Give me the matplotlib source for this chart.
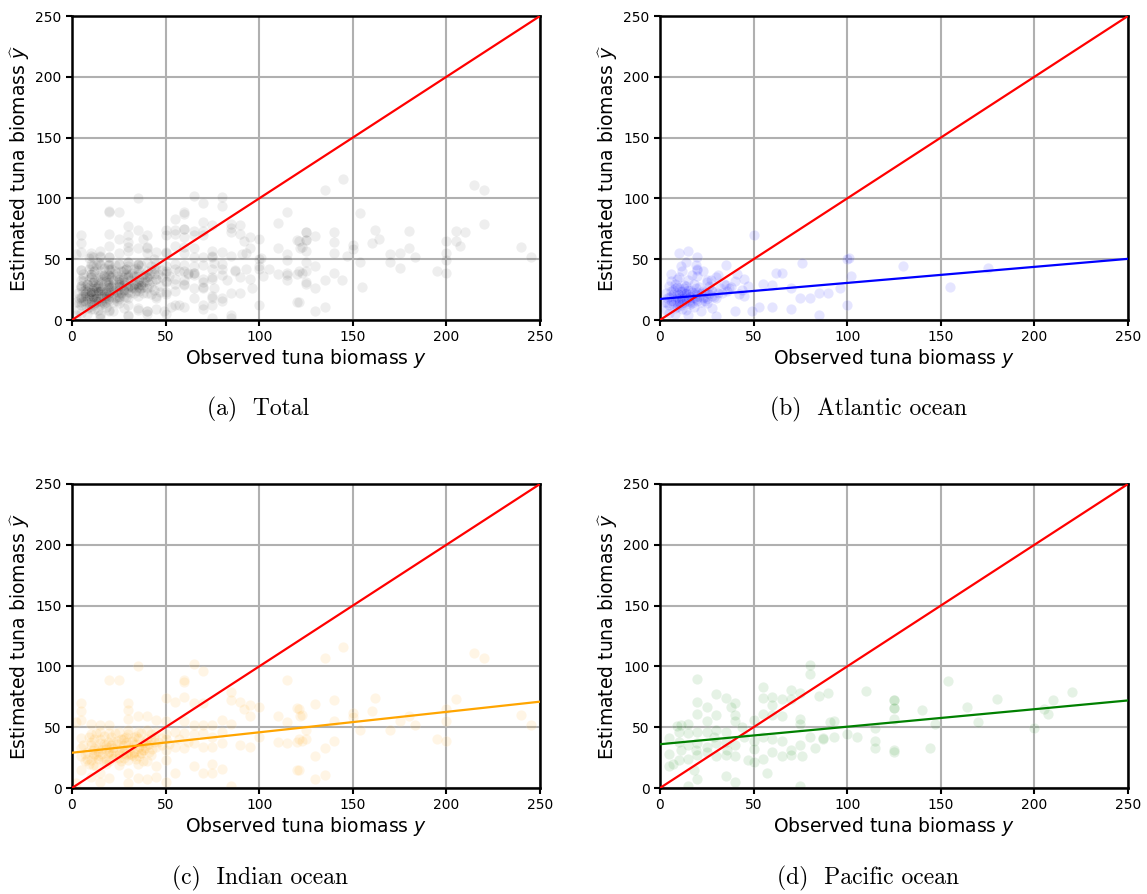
import numpy as np
import matplotlib.pyplot as plt

# (observed, estimated) tuna biomass, per ocean
atl_points = [
    (50, 70), (10, 55), (15, 57), (20, 52), (14, 48), (20, 41), (20, 36), (25, 33), (35, 45),
    (41, 38), (45, 34), (62, 39), (65, 39), (76, 47), (100, 50), (102, 36), (55, 30), (60, 29),
    (70, 26), (75, 18), (80, 18), (85, 22), (90, 22), (96, 26), (40, 7), (49, 7), (53, 11),
    (60, 11), (70, 9), (85, 4), (130, 44), (155, 27), (175, 43), (101, 51), (100, 12),
    (2, 15), (3, 22), (4, 18), (5, 12), (5, 28), (6, 20), (6, 32), (7, 16), (7, 25), (8, 10),
    (8, 19), (8, 30), (9, 14), (9, 22), (10, 17), (10, 26), (10, 35), (11, 12), (11, 20),
    (12, 18), (12, 24), (12, 40), (13, 15), (13, 22), (14, 19), (14, 28), (15, 16), (15, 21),
    (15, 33), (16, 13), (16, 25), (17, 18), (18, 22), (18, 30), (19, 17), (20, 20), (20, 42),
    (21, 27), (22, 15), (23, 24), (24, 19), (25, 31), (25, 22), (26, 28), (27, 25), (28, 20),
    (30, 35), (30, 18), (32, 26), (33, 22), (35, 29), (36, 24), (38, 27), (40, 32), (42, 21),
    (44, 25), (45, 20), (47, 28), (3, 8), (5, 6), (8, 5), (12, 9), (15, 4), (18, 11), (22, 7),
    (25, 14), (28, 10), (30, 3), (6, 38), (9, 34), (11, 44), (13, 29), (17, 37), (19, 45),
    (23, 40), (27, 33), (31, 37), (34, 30), (37, 26), (20, 23), (24, 16), (10, 13), (14, 8),
    (4, 14), (5, 19), (6, 24), (7, 13), (7, 21), (8, 17), (8, 26), (9, 11), (9, 18), (10, 21),
    (10, 15), (11, 24), (11, 17), (12, 14), (12, 21), (13, 19), (13, 26), (14, 16), (14, 22),
    (15, 18), (15, 25), (16, 20), (16, 15), (17, 23), (17, 14), (18, 18), (19, 21), (19, 26),
    (20, 16), (21, 19), (22, 22), (23, 18), (24, 23), (25, 17), (26, 21), (28, 24), (29, 19),
    (31, 22), (6, 16), (9, 27),
]

ind_points = [
    (145, 116), (135, 107), (215, 111), (220, 107), (130, 69), (140, 72), (122, 59), (121, 65),
    (150, 62), (150, 58), (162, 74), (160, 63), (154, 48), (140, 55), (125, 48), (125, 40),
    (121, 40), (140, 39), (135, 33), (130, 26), (121, 15), (130, 7), (135, 11), (170, 48),
    (175, 55), (180, 59), (183, 52), (195, 40), (200, 39), (200, 55), (200, 65), (205, 73),
    (240, 60), (245, 52),
    (35, 100), (20, 89), (25, 89), (65, 102), (70, 96), (60, 89), (60, 87), (115, 89),
    (5, 70), (5, 63), (5, 56), (30, 70), (30, 64), (50, 74), (55, 71), (60, 75), (65, 70),
    (70, 70), (85, 79), (85, 72), (90, 71), (95, 68), (100, 67), (92, 65), (95, 59), (110, 59),
    (115, 54), (120, 66), (123, 60), (2, 54), (10, 53), (15, 52), (20, 52), (30, 57), (35, 59),
    (40, 59), (45, 56), (50, 55), (60, 55), (65, 52), (70, 52), (75, 52), (80, 56), (85, 53),
    (80, 46), (75, 42), (70, 45), (65, 44), (60, 45), (55, 46), (50, 44), (45, 46), (40, 48),
    (35, 46), (30, 48), (25, 46), (20, 45), (15, 46), (10, 44), (5, 41), (5, 33), (10, 35),
    (15, 37), (20, 34), (25, 31), (30, 35), (35, 33), (40, 35), (45, 34), (50, 31), (55, 34),
    (60, 33), (65, 37), (70, 34), (75, 34), (80, 37), (90, 35), (95, 34), (100, 42), (110, 38),
    (115, 37), (120, 38), (123, 39), (120, 15), (5, 26), (10, 23), (15, 26), (20, 22), (25, 19),
    (30, 23), (35, 20), (40, 22), (45, 18), (50, 23), (65, 18), (75, 20), (80, 16), (70, 12),
    (85, 2), (5, 15), (10, 9), (15, 12), (20, 8), (30, 12), (35, 8), (40, 7), (45, 9), (50, 5),
    (15, 5), (2, 4), (30, 4), (55, 12), (75, 12),
    (8, 30), (12, 28), (18, 32), (22, 38), (27, 29), (32, 27), (38, 31), (12, 40), (17, 36),
    (22, 30), (28, 41), (33, 36), (37, 29), (42, 40), (8, 24), (13, 26), (18, 24), (23, 27),
    (28, 25), (33, 30), (10, 38), (14, 33), (19, 29), (24, 39), (29, 42), (34, 43), (39, 38),
    (26, 33), (31, 28), (36, 26), (11, 31), (16, 32), (21, 35), (27, 40), (33, 42), (38, 31),
    (44, 38), (48, 41), (52, 36), (57, 40), (62, 38), (9, 20), (13, 18), (17, 22), (21, 28),
    (25, 25), (29, 28), (33, 26), (37, 29), (41, 30),
    (6, 35), (7, 28), (9, 42), (11, 26), (12, 33), (13, 45), (14, 30), (15, 40), (16, 28),
    (17, 43), (18, 35), (19, 38), (20, 30), (21, 42), (22, 33), (23, 45), (24, 36), (25, 28),
    (26, 40), (27, 35), (28, 31), (29, 38), (30, 44), (31, 33), (32, 39), (33, 29), (34, 36),
    (35, 41), (36, 34), (37, 45), (38, 37), (39, 33), (40, 40), (41, 36), (42, 44), (43, 32),
    (44, 42), (46, 38), (48, 35), (50, 40), (7, 22), (11, 19), (14, 24), (18, 20), (22, 25),
    (26, 22), (30, 27), (34, 24), (38, 22), (42, 27),
]

pac_points = [
    (154, 88), (125, 72), (125, 66), (125, 57), (140, 64), (164, 67), (180, 73), (147, 53),
    (170, 54), (200, 49), (205, 65), (207, 61), (210, 72), (220, 79), (125, 30), (144, 33),
    (80, 101), (80, 94), (20, 90), (110, 80), (55, 83), (70, 81), (30, 77), (35, 74), (20, 71),
    (40, 70), (25, 67), (38, 67), (55, 74), (60, 75), (65, 73), (85, 76), (90, 78), (125, 72),
    (125, 66), (60, 68), (70, 73), (75, 78), (55, 61), (20, 61), (30, 60), (40, 60), (40, 55),
    (50, 56), (60, 60), (65, 59), (75, 57), (75, 53), (91, 54), (93, 55), (25, 55), (11, 52),
    (15, 53), (10, 46), (15, 45), (20, 46), (25, 46), (30, 48), (35, 46), (5, 41), (10, 38),
    (15, 35), (20, 37), (25, 34), (30, 37), (35, 38), (40, 35), (50, 39), (55, 42), (60, 40),
    (65, 39), (70, 31), (75, 35), (80, 42), (87, 41), (93, 42), (100, 44), (105, 42),
    (115, 49), (115, 39), (115, 33), (125, 31), (5, 28), (5, 18), (10, 23), (15, 24), (20, 27),
    (25, 30), (30, 26), (35, 27), (40, 26), (47, 23), (50, 21), (55, 24), (60, 30), (65, 26),
    (70, 27), (76, 26), (83, 33), (87, 40), (18, 15), (20, 7), (35, 10), (40, 5), (57, 12),
    (75, 2), (15, 2), (7, 20), (44, 50), (45, 42), (50, 32), (9, 51), (11, 31), (29, 42),
    (36, 31), (19, 31),
]

# fitted regression lines (intercept, slope)
atl_fit = (17.3, 0.132)
ind_fit = (29.0, 0.168)
pac_fit = (36.0, 0.144)

tot_points = atl_points + ind_points + pac_points

# points, colour, point alpha, fit, caption
panels = [
    (tot_points, 'black', 0.065, None, '(a)  Total'),
    (atl_points, 'blue', 0.1, atl_fit, '(b)  Atlantic ocean'),
    (ind_points, 'orange', 0.1, ind_fit, '(c)  Indian ocean'),
    (pac_points, 'green', 0.1, pac_fit, '(d)  Pacific ocean'),
]

fig = plt.figure(figsize=(11.47, 8.94), dpi=100)
W, H = 1147, 894
ax_boxes = [(72, 16), (660, 16), (72, 484), (660, 484)]
cap_pos = [(258, 409), (868, 409), (260, 878), (868, 878)]

for (pts, col, alpha, fit, cap), (x0, y0), (cx, cy) in zip(panels, ax_boxes, cap_pos):
    xs, ys = np.array(pts).T
    ax = fig.add_axes([x0 / W, 1 - (y0 + 304) / H, 468 / W, 304 / H])
    ax.grid(True, color='#b0b0b0', linewidth=1.5, zorder=0)
    ax.set_axisbelow(True)
    ax.scatter(xs, ys, s=55, color=col, alpha=alpha, edgecolors='white', linewidths=0.75, zorder=2)
    line_x = np.array([0, 250])
    ax.plot(line_x, line_x, color='red', linewidth=1.6, zorder=3)
    if fit is not None:
        ax.plot(line_x, fit[0] + fit[1] * line_x, color=col, linewidth=1.6, zorder=3)
    ax.set_xlim(0, 250)
    ax.set_ylim(0, 250)
    ax.set_xticks([0, 50, 100, 150, 200, 250])
    ax.set_yticks([0, 50, 100, 150, 200, 250])
    ax.tick_params(labelsize=10, width=1.5, length=4)
    for sp in ax.spines.values():
        sp.set_linewidth(1.8)
    ax.set_xlabel('Observed tuna biomass $y$', fontsize=13.5, labelpad=2)
    ax.set_ylabel(r'Estimated tuna biomass $\widehat{y}$', fontsize=13.5, labelpad=2)
    fig.text(cx / W, 1 - cy / H, cap, family='cmr10', fontsize=17, ha='center', va='center')

fig.savefig('out.png', dpi=100)
